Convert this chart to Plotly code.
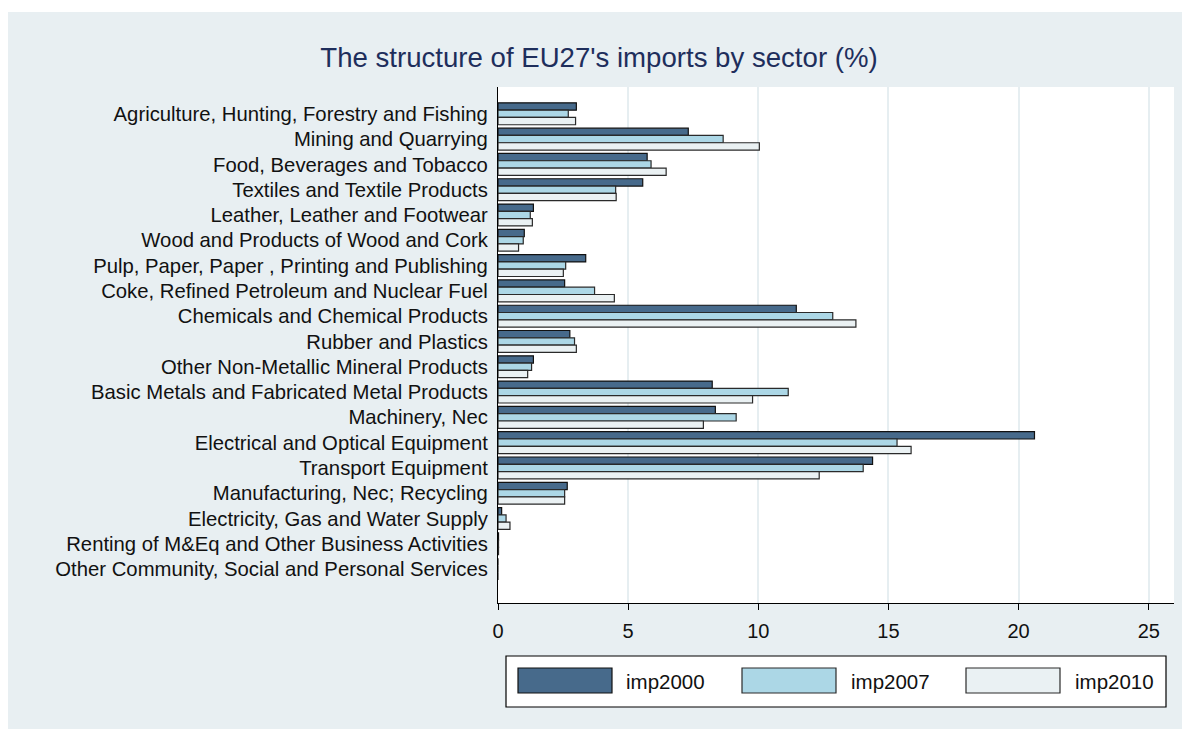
import plotly.graph_objects as go

sectors = [
    "Agriculture, Hunting, Forestry and Fishing",
    "Mining and Quarrying",
    "Food, Beverages and Tobacco",
    "Textiles and Textile Products",
    "Leather, Leather and Footwear",
    "Wood and Products of Wood and Cork",
    "Pulp, Paper, Paper , Printing and Publishing",
    "Coke, Refined Petroleum and Nuclear Fuel",
    "Chemicals and Chemical Products",
    "Rubber and Plastics",
    "Other Non-Metallic Mineral Products",
    "Basic Metals and Fabricated Metal Products",
    "Machinery, Nec",
    "Electrical and Optical Equipment",
    "Transport Equipment",
    "Manufacturing, Nec; Recycling",
    "Electricity, Gas and Water Supply",
    "Renting of M&Eq and Other Business Activities",
    "Other Community, Social and Personal Services",
]
imp2000 = [3.01, 7.31, 5.73, 5.56, 1.36, 1.01, 3.37, 2.56, 11.46, 2.76, 1.36, 8.23, 8.35, 20.61, 14.39, 2.66, 0.14, 0.02, 0.0]
imp2007 = [2.70, 8.65, 5.88, 4.52, 1.24, 0.97, 2.60, 3.71, 12.86, 2.94, 1.29, 11.15, 9.15, 15.33, 14.03, 2.56, 0.31, 0.02, 0.0]
imp2010 = [2.98, 10.04, 6.46, 4.54, 1.32, 0.79, 2.51, 4.47, 13.75, 3.01, 1.14, 9.78, 7.89, 15.87, 12.34, 2.56, 0.46, 0.02, 0.0]
series_names = ["imp2000", "imp2007", "imp2010"]
x_ticks = [0, 5, 10, 15, 20, 25]

colors = ["#476a8b", "#acd7e6", "#eaf1f3"]
outlines = ["#111111", "#2a2a2a", "#2a2a2a"]
bg = "#e8eff2"

fig = go.Figure()
for name, vals, c, lc in zip(series_names, [imp2000, imp2007, imp2010], colors, outlines):
    fig.add_trace(go.Bar(
        y=sectors, x=vals, name=name, orientation="h",
        marker=dict(color=c, line=dict(color=lc, width=1.2)),
        showlegend=False,
    ))

# page has an 8px body margin: figure starts at screen (8, 8)
OFF = 8
FW, FH = 1174, 721
# plot area in screen pixels
L, R, T, B = 498, 1174, 87, 603
W, H = R - L, B - T
def px(x):
    return (x - L) / W
def py(y):
    return (B - y) / H

shapes = [
    dict(type="rect", xref="paper", yref="paper", x0=px(8), x1=px(1182), y0=py(729), y1=py(12),
         fillcolor=bg, line=dict(width=0), layer="below"),
    dict(type="rect", xref="paper", yref="paper", x0=0, x1=1, y0=0, y1=1,
         fillcolor="white", line=dict(width=0), layer="below"),
    # legend box
    dict(type="rect", xref="paper", yref="paper", x0=px(506), x1=px(1166), y0=py(707), y1=py(656),
         fillcolor="white", line=dict(color="black", width=1.2)),
]
annotations = []
sw = [(518, 612, 624), (742, 836, 849), (966, 1060, 1073)]
for (x0, x1, tx), c, lc, name in zip(sw, colors, outlines, series_names):
    shapes.append(dict(type="rect", xref="paper", yref="paper", x0=px(x0), x1=px(x1),
                       y0=py(693), y1=py(668), fillcolor=c, line=dict(color=lc, width=1.2)))
    annotations.append(dict(xref="paper", yref="paper", x=px(tx), y=py(681), text=name,
                            showarrow=False, xanchor="left", yanchor="middle",
                            font=dict(size=20.5, color="#111111")))

fig.update_layout(
    width=FW, height=FH,
    margin=dict(l=L - OFF, r=(OFF + FW) - R, t=T - OFF, b=(OFF + FH) - B, autoexpand=False),
    paper_bgcolor="white",
    plot_bgcolor="rgba(0,0,0,0)",
    barmode="group",
    bargap=0.135,
    bargroupgap=0,
    font=dict(family="Liberation Sans, Arial, sans-serif", size=20, color="#111111"),
    title=dict(text="The structure of EU27's imports by sector (%)", x=0.5 + 4 / FW, xref="container",
               xanchor="center", y=1 - (57 - OFF) / FH, yanchor="middle",
               font=dict(size=27.6, color="#1e2e5c")),
    xaxis=dict(range=[0, 25.97], tickvals=x_ticks, showgrid=True, gridcolor="#e6eef1", gridwidth=1.5,
               zeroline=False, showline=True, linecolor="black", linewidth=1.2,
               ticks="outside", ticklen=6, tickcolor="black", tickwidth=1.2,
               tickfont=dict(size=20), ticklabelstandoff=4, fixedrange=True),
    yaxis=dict(categoryorder="array", categoryarray=sectors, range=[19.34, -1.06],
               showgrid=False, zeroline=False, showline=True, linecolor="black", linewidth=1.2,
               ticks="", tickfont=dict(size=20.3), ticklabelstandoff=5, fixedrange=True),
    shapes=shapes,
    annotations=annotations,
    showlegend=False,
)

fig.write_html("out.html")
